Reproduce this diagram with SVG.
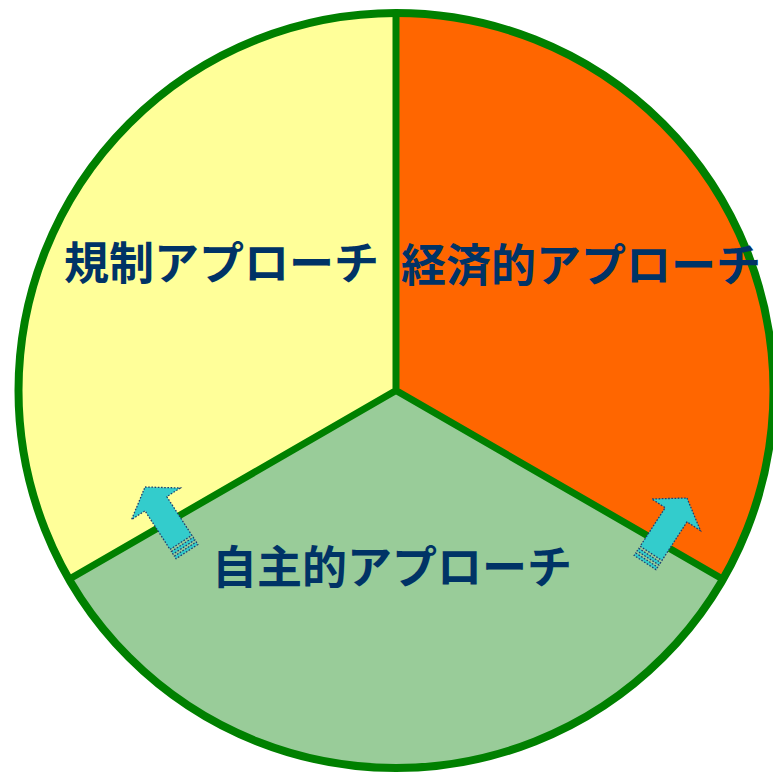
<svg xmlns="http://www.w3.org/2000/svg" width="773" height="773" viewBox="0 0 773 773">
<style>
.lbl{font-family:"Noto Sans CJK JP","Noto Sans CJK SC",sans-serif;font-weight:bold;font-size:45px;fill:#003366}
.div{stroke:#008000;stroke-width:7;fill:none;stroke-linecap:butt}
.arr{fill:#33CCCC;stroke:#1F3F6F;stroke-width:1.3;stroke-dasharray:1.6 1.6}
</style>
<defs>
<g id="arrowShape">
<path class="arr" d="M0,0 L29,20 L13,20 L13,66 L-13,66 L-13,20 L-29,20 Z"/>
<rect class="arr" x="-13" y="68.5" width="26" height="3"/>
<rect class="arr" x="-13" y="74" width="26" height="3"/>
</g>
</defs>
<g id="pie">
<g id="sector-regulation"><path d="M396,390.5 L396,13 A377.5,377.5 0 0 0 69.1,579.25 Z" fill="#FFFF99"/></g>
<g id="sector-economic"><path d="M396,390.5 L396,13 A377.5,377.5 0 0 1 722.9,579.25 Z" fill="#FF6600"/></g>
<g id="sector-voluntary"><path d="M396,390.5 L69.1,579.25 A377.5,377.5 0 0 0 722.9,579.25 Z" fill="#99CC99"/></g>
<circle cx="396" cy="390.5" r="377.5" fill="none" stroke="#008000" stroke-width="8"/>
</g>
<g id="connectors">
<path class="div" d="M396,13 L396,390.5 M396,390.5 L69.1,579.25 M396,390.5 L722.9,579.25"/>
</g>
<g id="arrow-left"><use href="#arrowShape" transform="translate(145,487) rotate(-33)"/></g>
<g id="arrow-right"><use href="#arrowShape" transform="translate(687,498) rotate(33)"/></g>
<g id="label-regulation"><text class="lbl" x="64" y="280">規制アプローチ</text></g>
<g id="label-economic"><text class="lbl" x="401" y="282">経済的アプローチ</text></g>
<g id="label-voluntary"><text class="lbl" x="212" y="584">自主的アプローチ</text></g>
</svg>
